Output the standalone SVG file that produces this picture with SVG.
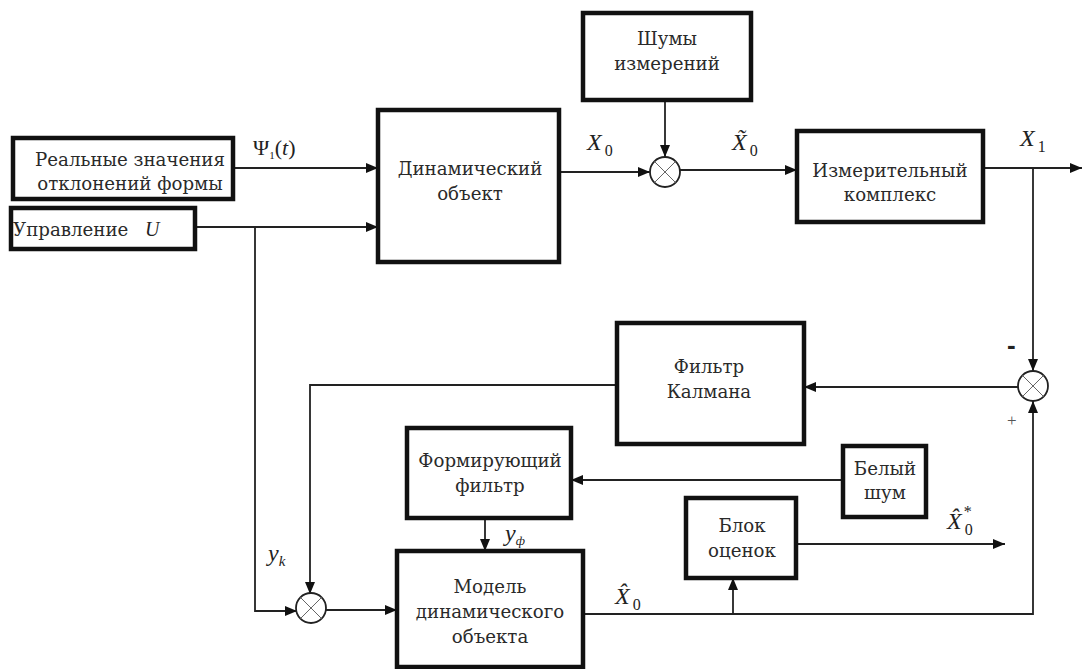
<svg xmlns="http://www.w3.org/2000/svg" width="1083" height="669" viewBox="0 0 1083 669">
<defs>
<marker id="ah" viewBox="0 0 12 10" refX="12" refY="5" markerWidth="12" markerHeight="10" markerUnits="userSpaceOnUse" orient="auto">
<path d="M0,0 L12,5 L0,10 Z" fill="#111"/>
</marker>
</defs>
<style>
.box{fill:#fff;stroke:#111;stroke-width:4.5}
.t{font-family:'DejaVu Serif','Liberation Serif',serif;font-size:18.2px;fill:#2a2a2a;text-anchor:middle}
.m{font-family:'Liberation Serif','DejaVu Serif',serif;font-style:italic;font-size:24px;fill:#222}
.s{font-family:'Liberation Serif','DejaVu Serif',serif;font-size:16px;fill:#222}
.a{fill:none;stroke:#222;stroke-width:1.8;marker-end:url(#ah)}
.sum{fill:#fff;stroke:#222;stroke-width:1.8}
.x{stroke:#666;stroke-width:1}
</style>
<rect width="1083" height="669" fill="#fff"/>
<g id="connectors">
<path class="a" d="M233,168 H378"/>
<path class="a" d="M195,227 H378"/>
<path class="a" d="M255,227 V611 H297"/>
<path class="a" d="M559,172 H650"/>
<path class="a" d="M665,100 V157"/>
<path class="a" d="M680,170 H797"/>
<path class="a" d="M983,168 H1082"/>
<path class="a" d="M1033,168 V371"/>
<path class="a" d="M1018,387 H804"/>
<path class="a" d="M617,385 H310 V594"/>
<path class="a" d="M326,610 H397"/>
<path class="a" d="M843,480 H571"/>
<path class="a" d="M485,518 V551"/>
<path class="a" d="M583,614 H1033 V401"/>
<path class="a" d="M733,614 V578"/>
<path class="a" d="M796,544 H1005"/>
</g>
<g id="sum1">
<circle class="sum" cx="665" cy="172" r="15"/>
<path class="x" d="M654.4,161.4 L675.6,182.6 M675.6,161.4 L654.4,182.6"/>
</g>
<g id="sum2">
<circle class="sum" cx="1033" cy="386" r="15"/>
<path class="x" d="M1022.4,375.4 L1043.6,396.6 M1043.6,375.4 L1022.4,396.6"/>
</g>
<g id="sum3">
<circle class="sum" cx="311" cy="608" r="15"/>
<path class="x" d="M300.4,597.4 L321.6,618.6 M321.6,597.4 L300.4,618.6"/>
</g>
<g id="real">
<rect class="box" x="13" y="138" width="220" height="61"/>
<text class="t" x="130" y="166">Реальные значения</text>
<text class="t" x="130" y="190">отклонений формы</text>
</g>
<g id="control">
<rect class="box" x="11" y="208" width="184" height="41"/>
<text class="t" x="13" y="236" style="text-anchor:start">Управление</text>
<text class="m" x="145" y="236" style="font-size:20px">U</text>
</g>
<g id="dyn">
<rect class="box" x="378" y="110" width="181" height="152"/>
<text class="t" x="470" y="175">Динамический</text>
<text class="t" x="470" y="200">объект</text>
</g>
<g id="noise">
<rect class="box" x="583" y="13" width="168" height="87"/>
<text class="t" x="667" y="45">Шумы</text>
<text class="t" x="667" y="70">измерений</text>
</g>
<g id="meas">
<rect class="box" x="797" y="131" width="186" height="91"/>
<text class="t" x="890" y="177">Измерительный</text>
<text class="t" x="890" y="201">комплекс</text>
</g>
<g id="kalman">
<rect class="box" x="617" y="323" width="187" height="121"/>
<text class="t" x="709" y="373">Фильтр</text>
<text class="t" x="709" y="398">Калмана</text>
</g>
<g id="white">
<rect class="box" x="843" y="446" width="83" height="71"/>
<text class="t" x="885" y="475">Белый</text>
<text class="t" x="885" y="499">шум</text>
</g>
<g id="shaping">
<rect class="box" x="407" y="428" width="164" height="90"/>
<text class="t" x="490" y="467">Формирующий</text>
<text class="t" x="490" y="492">фильтр</text>
</g>
<g id="estim">
<rect class="box" x="686" y="498" width="110" height="80"/>
<text class="t" x="742" y="532">Блок</text>
<text class="t" x="742" y="557">оценок</text>
</g>
<g id="model">
<rect class="box" x="397" y="551" width="186" height="116"/>
<text class="t" x="490" y="593">Модель</text>
<text class="t" x="490" y="618">динамического</text>
<text class="t" x="490" y="643">объекта</text>
</g>
<g id="labels">
<text class="s" x="253" y="155" style="font-size:22px">Ψ<tspan dy="4" style="font-size:11px">1</tspan><tspan dy="-4">(</tspan><tspan font-style="italic">t</tspan>)</text>
<text class="m" x="587" y="150">X<tspan dx="3" dy="6" style="font-style:normal;font-size:16px">0</tspan></text>
<text class="m" x="732" y="150">X̃<tspan dx="3" dy="6" style="font-style:normal;font-size:16px">0</tspan></text>
<text class="m" x="1020" y="146">X<tspan dx="3" dy="6" style="font-style:normal;font-size:16px">1</tspan></text>
<text x="1007" y="354" style="font-family:'Liberation Sans',sans-serif;font-size:26px;font-weight:bold;fill:#222">-</text>
<text class="s" x="1007" y="426" style="font-size:17px;fill:#555">+</text>
<text class="m" x="268" y="561">y<tspan dy="5" style="font-size:15px">k</tspan></text>
<text class="m" x="505" y="541">y<tspan dy="4" style="font-size:13px">ф</tspan></text>
<text class="m" x="615" y="604">X̂<tspan dx="3" dy="6" style="font-style:normal;font-size:16px">0</tspan></text>
<text class="m" x="947" y="529">X̂<tspan dx="3" dy="6" style="font-style:normal;font-size:16px">0</tspan><tspan dx="-9" dy="-18" style="font-style:normal;font-size:16px">*</tspan></text>
</g>
</svg>
